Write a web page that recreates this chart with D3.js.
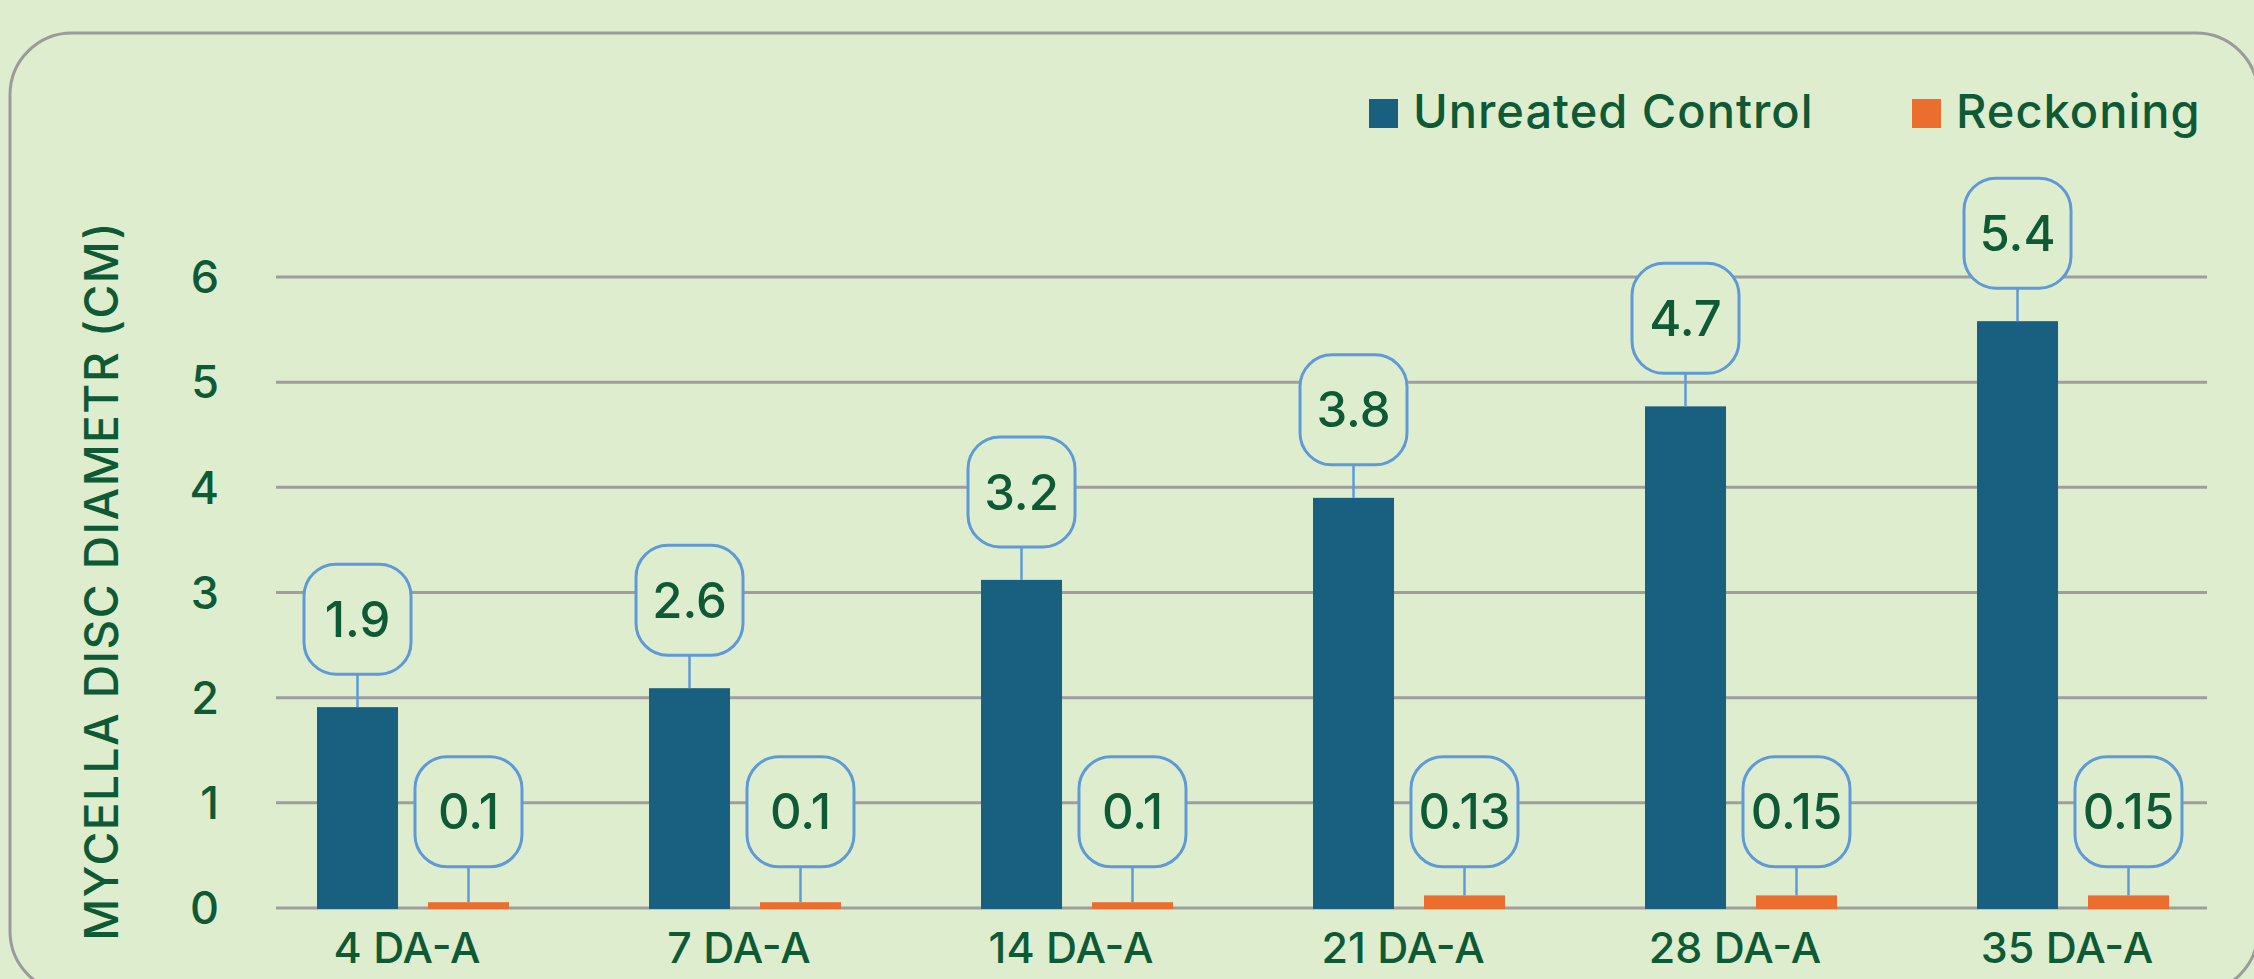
<!DOCTYPE html>
<html>
<head>
<meta charset="utf-8">
<script src="https://cdn.jsdelivr.net/npm/d3@7/dist/d3.min.js"></script>
<style>
  html, body { margin: 0; padding: 0; background: #dfedcf; }
  svg { display: block; }
  text { font-family: Inter, "Noto Sans", sans-serif; fill: #0e5a34; font-weight: 500; }
</style>
</head>
<body>
<svg id="chart" width="2254" height="979"></svg>
<script>
const categories = ["4 DA-A", "7 DA-A", "14 DA-A", "21 DA-A", "28 DA-A", "35 DA-A"];
const seriesNames = ["Unreated Control", "Reckoning"];
const controlValues = [1.91, 2.09, 3.12, 3.9, 4.77, 5.58];
const controlLabels = ["1.9", "2.6", "3.2", "3.8", "4.7", "5.4"];
const reckoningValues = [0.055, 0.055, 0.055, 0.12, 0.12, 0.12];
const reckoningLabels = ["0.1", "0.1", "0.1", "0.13", "0.15", "0.15"];
const yTicks = [0, 1, 2, 3, 4, 5, 6];

const colors = { "Unreated Control": "#185f80", "Reckoning": "#eb6e2f" };
const calloutColor = "#5e9ad6";
const gridColor = "#9e9e9e";

const svg = d3.select("#chart");

// panel border (rounded, running off the right/bottom edges)
svg.append("rect")
  .attr("x", 10).attr("y", 33)
  .attr("width", 2248).attr("height", 960)
  .attr("rx", 62).attr("ry", 62)
  .attr("fill", "#dfedcf")
  .attr("stroke", "#9b9b9b").attr("stroke-width", 3);

const plot = { left: 276, right: 2207, top: 277, bottom: 908 };

const y = d3.scaleLinear().domain([0, 6]).range([plot.bottom, plot.top]);
const x0 = d3.scaleBand().domain(categories).range([247, 2239]).paddingInner(0).paddingOuter(0);
const x1 = d3.scaleBand().domain(seriesNames).range([x0.bandwidth() / 2 - 96, x0.bandwidth() / 2 + 96]).paddingInner(0.27);

// gridlines
svg.append("g")
  .selectAll("line")
  .data(yTicks)
  .join("line")
  .attr("x1", plot.left).attr("x2", plot.right)
  .attr("y1", d => y(d)).attr("y2", d => y(d))
  .attr("stroke", gridColor).attr("stroke-width", 3);

// y axis tick labels
const yAxis = d3.axisLeft(y).tickValues(yTicks).tickSize(0).tickPadding(0).tickFormat(d3.format("d"));
const gy = svg.append("g").attr("transform", "translate(219,0)").call(yAxis);
gy.select(".domain").remove();
gy.selectAll("text")
  .attr("font-size", 45)
  .attr("font-family", "Inter, sans-serif")
  .attr("font-weight", 500)
  .attr("fill", "#0e5a34")
  .attr("dy", "0.35em");

// x axis labels
const xAxis = d3.axisBottom(x0).tickSize(0).tickPadding(0);
const gx = svg.append("g").attr("transform", `translate(-6,${plot.bottom})`).call(xAxis);
gx.select(".domain").remove();
gx.selectAll("text")
  .attr("font-size", 43)
  .attr("font-family", "Inter, sans-serif")
  .attr("font-weight", 500)
  .attr("fill", "#0e5a34")
  .attr("y", 55)
  .attr("dy", 0);

// y axis title
svg.append("text")
  .attr("transform", "translate(118,581) rotate(-90)")
  .attr("text-anchor", "middle")
  .attr("font-size", 46)
  .attr("letter-spacing", 1.5)
  .text("MYCELLA DISC DIAMETR (CM)");

// bars
const rows = categories.map((c, i) => ({
  cat: c,
  items: [
    { key: seriesNames[0], value: controlValues[i], label: controlLabels[i] },
    { key: seriesNames[1], value: reckoningValues[i], label: reckoningLabels[i] }
  ]
}));

const groups = svg.append("g")
  .selectAll("g")
  .data(rows)
  .join("g")
  .attr("transform", d => `translate(${x0(d.cat)},0)`);

groups.selectAll("rect.bar")
  .data(d => d.items)
  .join("rect")
  .attr("class", "bar")
  .attr("x", d => x1(d.key))
  .attr("width", x1.bandwidth())
  .attr("y", d => y(d.value))
  .attr("height", d => y(0) - y(d.value) + 1)
  .attr("fill", d => colors[d.key]);

// callouts
const boxW = 107, boxH = 110, gap = 33;
const reckoningBoxCenter = y(0.915);
const boxCenter = d => d.key === seriesNames[0] ? y(d.value) - gap - boxH / 2 : reckoningBoxCenter;
const callouts = groups.selectAll("g.callout")
  .data(d => d.items)
  .join("g")
  .attr("class", "callout")
  .attr("transform", d => `translate(${x1(d.key) + x1.bandwidth() / 2},${boxCenter(d)})`);

callouts.append("line")
  .attr("x1", 0).attr("x2", 0)
  .attr("y1", boxH / 2)
  .attr("y2", d => y(d.value) - boxCenter(d))
  .attr("stroke", calloutColor).attr("stroke-width", 2.5);

callouts.append("rect")
  .attr("x", -boxW / 2).attr("y", -boxH / 2)
  .attr("width", boxW).attr("height", boxH)
  .attr("rx", 32).attr("ry", 32)
  .attr("fill", "#dfedcf")
  .attr("stroke", calloutColor).attr("stroke-width", 3);

callouts.append("text")
  .attr("text-anchor", "middle")
  .attr("dy", "0.36em")
  .attr("font-size", 49)
  .text(d => d.label);

// legend
const legend = svg.append("g");
const legendItems = [
  { key: seriesNames[0], x: 1369 },
  { key: seriesNames[1], x: 1912 }
];
const li = legend.selectAll("g").data(legendItems).join("g")
  .attr("transform", d => `translate(${d.x},99)`);
li.append("rect").attr("width", 29).attr("height", 29).attr("fill", d => colors[d.key]);
li.append("text").attr("x", 44).attr("y", 29).attr("font-size", 47).attr("letter-spacing", 1).text(d => d.key);
</script>
</body>
</html>
